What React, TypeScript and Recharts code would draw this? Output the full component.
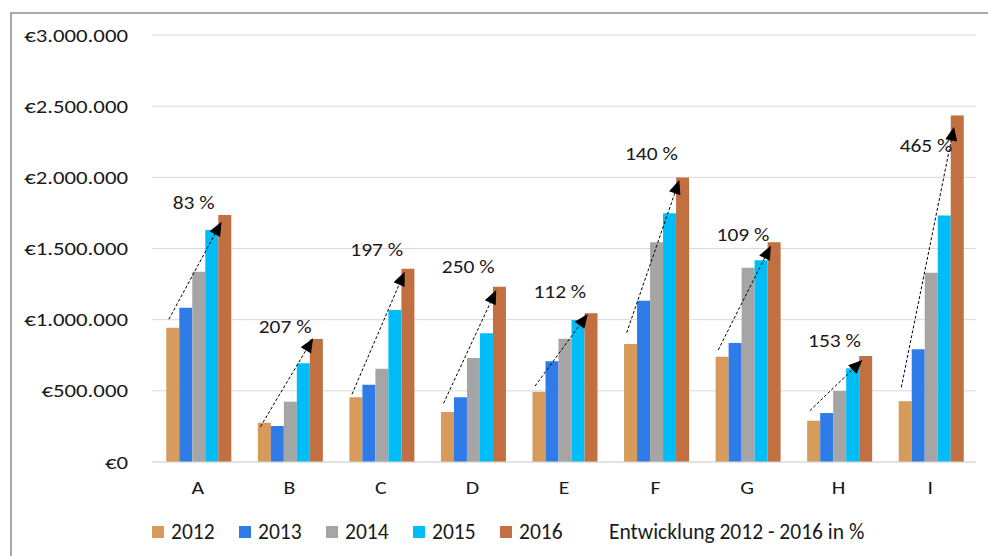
import React from 'react';
import { BarChart, Bar, XAxis, YAxis, CartesianGrid, Legend, LabelList } from 'recharts';

const FONT = "Calibri, Carlito, 'Liberation Sans', Arial, sans-serif";

const categories = ['A', 'B', 'C', 'D', 'E', 'F', 'G', 'H', 'I'];
const v2012 = [944000, 276000, 455000, 351000, 494000, 829000, 740000, 290000, 427000];
const v2013 = [1084000, 253000, 543000, 455000, 707000, 1133000, 836000, 344000, 792000];
const v2014 = [1337000, 424000, 656000, 731000, 866000, 1544000, 1365000, 499000, 1330000];
const v2015 = [1630000, 693000, 1068000, 904000, 998000, 1748000, 1417000, 658000, 1731000];
const v2016 = [1735000, 864000, 1358000, 1232000, 1045000, 1998000, 1544000, 745000, 2434000];

// growth 2012 -> 2016 in percent (annotation text)
const growth = [83, 207, 197, 250, 112, 140, 109, 153, 465];
// arrow start / end values and label anchor values (in data units)
const arrowStart = [1003000, 248000, 476000, 412000, 534000, 908000, 787000, 360000, 525000];
const arrowEnd = [1688000, 869000, 1337000, 1208000, 1040000, 1981000, 1520000, 717000, 2356000];
const growthLabelY = [1823000, 953000, 1492000, 1370000, 1197000, 2164000, 1600000, 850000, 2227000];

const yTicks = [0, 500000, 1000000, 1500000, 2000000, 2500000, 3000000];

const series = [
  { key: 'y2012', name: '2012', color: '#D69A5A' },
  { key: 'y2013', name: '2013', color: '#2F7CE9' },
  { key: 'y2014', name: '2014', color: '#A5A5A5' },
  { key: 'y2015', name: '2015', color: '#00BDF7' },
  { key: 'y2016', name: '2016', color: '#C27042' },
];

const data = categories.map((c, i) => ({
  cat: c,
  y2012: v2012[i],
  y2013: v2013[i],
  y2014: v2014[i],
  y2015: v2015[i],
  y2016: v2016[i],
}));

const fmtEuro = (v: number) => '€' + String(v).replace(/\B(?=(\d{3})+(?!\d))/g, '.');

const TEXT = '#1a1a1a';

const YTick = (props: any) => {
  const { x, y, payload } = props;
  return (
    <g transform={`translate(${x},${y}) scale(1.2,1)`}>
      <text x={0} y={0} dy="0.35em" textAnchor="end" fontFamily={FONT} fontSize={19} fill={TEXT}>
        {fmtEuro(Number(payload.value))}
      </text>
    </g>
  );
};

const XTick = (props: any) => {
  const { x, y, payload } = props;
  return (
    <g transform={`translate(${x},${y}) scale(1.18,1)`}>
      <text x={0} y={0} dy="0.71em" textAnchor="middle" fontFamily={FONT} fontSize={18.5} fill={TEXT}>
        {payload.value}
      </text>
    </g>
  );
};

const ArrowLabel = (props: any) => {
  const vb = props.viewBox || {};
  const x = Number(props.x ?? vb.x);
  const y = Number(props.y ?? vb.y);
  const w = Number(props.width ?? vb.width);
  const h = Number(props.height ?? vb.height);
  const v = Number(props.value);
  const index = Number(props.index);
  if (!v || !isFinite(x) || !isFinite(h)) return null;
  const ppu = h / v;
  const base = y + h;
  const x0 = x - 4 * w + 0.2 * w;
  const y0 = base - arrowStart[index] * ppu;
  const x1 = x + 0.25 * w;
  const y1 = base - arrowEnd[index] * ppu;
  const dx = x1 - x0;
  const dy = y1 - y0;
  const len = Math.hypot(dx, dy);
  const ux = dx / len;
  const uy = dy / len;
  const L = 14;
  const W = 6;
  const bx = x1 - ux * L;
  const by = y1 - uy * L;
  const pts = `${x1},${y1} ${bx - uy * W},${by + ux * W} ${bx + uy * W},${by - ux * W}`;
  const lx = x - 1.9 * w;
  const ly = base - growthLabelY[index] * ppu;
  return (
    <g>
      <line x1={x0} y1={y0} x2={bx + ux * 2} y2={by + uy * 2} stroke="#000" strokeWidth={1} strokeDasharray="3 2" />
      <polygon points={pts} fill="#000" />
      <g transform={`translate(${lx},${ly}) scale(1.16,1)`}>
        <text x={0} y={0} dy="0.35em" textAnchor="middle" fontFamily={FONT} fontSize={18.5} fill={TEXT}>
          {growth[index] + ' %'}
        </text>
      </g>
    </g>
  );
};

const LegendContent = () => (
  <div style={{ position: 'relative', height: 40, width: 988, fontFamily: FONT, fontSize: 21.5, color: TEXT }}>
    {series.map((s, i) => (
      <div
        key={s.key}
        style={{ position: 'absolute', left: 152 + i * 87, top: 18, display: 'flex', alignItems: 'center', lineHeight: '24px' }}
      >
        <span style={{ width: 12, height: 12, background: s.color, display: 'inline-block', marginRight: 7 }} />
        <span>{s.name}</span>
      </div>
    ))}
    <div style={{ position: 'absolute', left: 609, top: 18, lineHeight: '24px', whiteSpace: 'nowrap' }}>
      Entwicklung 2012 - 2016 in %
    </div>
  </div>
);

export default function App() {
  return (
    <div style={{ position: 'absolute', left: 0, top: 0, width: 988, height: 556, overflow: 'hidden', background: '#fff' }}>
      <div
        style={{
          position: 'absolute',
          left: 10,
          top: 12,
          width: 1200,
          height: 800,
          borderLeft: '2px solid #a8a8a8',
          borderTop: '2px solid #a8a8a8',
        }}
      />
      <div style={{ position: 'absolute', left: 0, top: 0 }}>
        <BarChart
          width={988}
          height={556}
          data={data}
          margin={{ top: 35, right: 12, left: 0, bottom: 14 }}
          barCategoryGap="15.6%"
          barGap={0}
        >
          <CartesianGrid vertical={false} stroke="#d9d9d9" strokeWidth={1} />
          <XAxis
            dataKey="cat"
            height={40}
            tickLine={false}
            axisLine={{ stroke: '#d9d9d9' }}
            tickSize={0}
            tickMargin={19}
            tick={XTick}
          />
          <YAxis
            width={152}
            domain={[0, 3000000]}
            ticks={yTicks}
            tickFormatter={fmtEuro}
            axisLine={false}
            tickLine={false}
            tickSize={0}
            tickMargin={24}
            tick={YTick}
          />
          <Legend verticalAlign="bottom" height={40} content={LegendContent} wrapperStyle={{ left: 0, width: 988, margin: 0, padding: 0 }} />
          {series.map((s) => (
            <Bar key={s.key} dataKey={s.key} name={s.name} fill={s.color} isAnimationActive={false}>
              {s.key === 'y2016' ? <LabelList dataKey="y2016" content={ArrowLabel} /> : null}
            </Bar>
          ))}
        </BarChart>
      </div>
    </div>
  );
}
